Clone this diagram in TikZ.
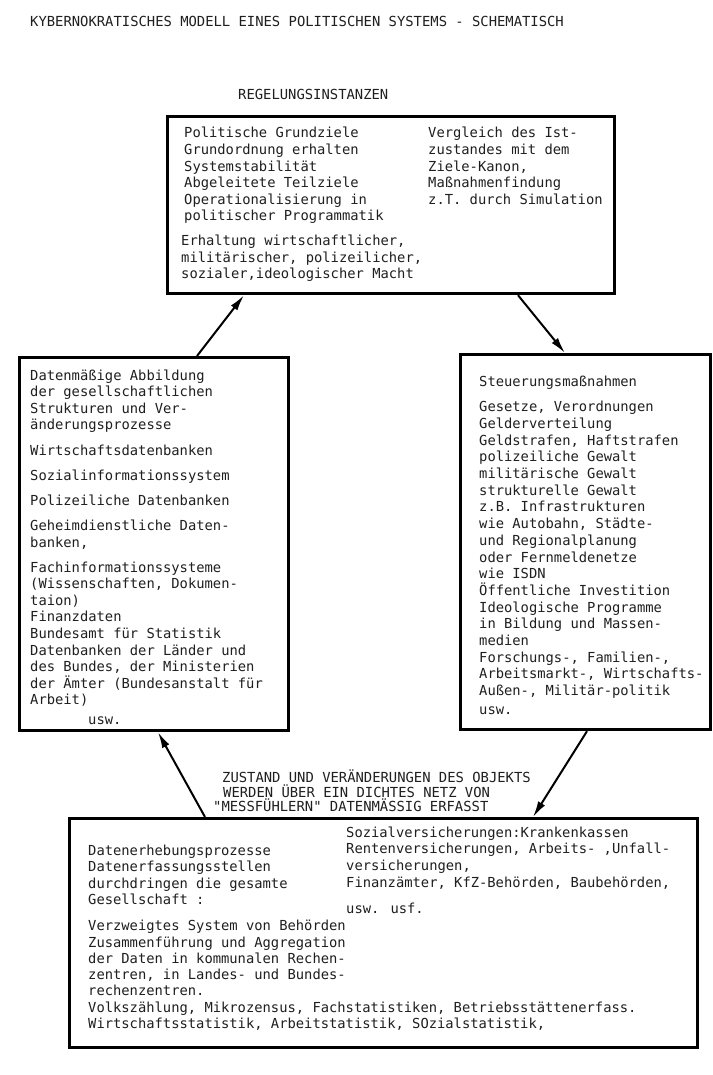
\documentclass[tikz,border=0pt]{standalone}
\usepackage{fontspec}
\usetikzlibrary{arrows.meta}
\newfontfamily\tw{DejaVu Sans Mono}
\tikzset{
  tline/.style={anchor=base west, inner sep=0pt, font=\tw\fontsize{13.8}{16.6}\selectfont, text=black!88},
  capline/.style={tline, font=\tw\fontsize{13.85}{15}\selectfont},
  boxnode/.style={draw=black, line width=3.2pt, anchor=north west, inner sep=0pt},
  arr/.style={line width=2pt, -{Latex[length=16pt,width=8pt]}}
}
\newcommand\tlines[5]{% prefix, x, first baseline y, spacing, list
  \foreach \l [count=\i from 0] in {#5} {\node[tline] (#1\i) at ({#2},{#3+\i*#4}) {\l};}}
\begin{document}
\begin{tikzpicture}[x=1pt,y=-1pt]
\useasboundingbox (0,0) rectangle (712,1075);
\fill[white] (0,0) rectangle (712,1075);

% titles
\node[capline] (title) at (30,27) {KYBERNOKRATISCHES MODELL EINES POLITISCHEN SYSTEMS - SCHEMATISCH};
\node[capline] (regel) at (238,100) {REGELUNGSINSTANZEN};

% boxes
\node[boxnode, minimum width=447pt, minimum height=177pt] (tbox) at (166,115) {};
\node[boxnode, minimum width=269pt, minimum height=373pt] (lbox) at (18,356) {};
\node[boxnode, minimum width=250pt, minimum height=375pt] (rbox) at (459,353) {};
\node[boxnode, minimum width=628pt, minimum height=229pt] (bbox) at (68,817) {};

% top box text
\tlines{ta}{184}{138}{16.6}{{Politische Grundziele},{Grundordnung erhalten},{Systemstabilität},{Abgeleitete Teilziele},{Operationalisierung in},{politischer Programmatik}}
\tlines{tb}{181}{245.5}{16.5}{{Erhaltung wirtschaftlicher,},{militärischer, polizeilicher,},{sozialer,ideologischer Macht}}
\tlines{tc}{428}{138}{16.6}{{Vergleich des Ist-},{zustandes mit dem},{Ziele-Kanon,},{Maßnahmenfindung},{z.T. durch Simulation}}

% left box text
\tlines{la}{30}{380}{16.6}{{Datenmäßige Abbildung},{der gesellschaftlichen},{Strukturen und Ver-},{änderungsprozesse}}
\tlines{lb}{30}{455}{25}{{Wirtschaftsdatenbanken},{Sozialinformationssystem},{Polizeiliche Datenbanken}}
\tlines{lc}{30}{530}{17.5}{{Geheimdienstliche Daten-},{banken,}}
\tlines{ld}{30}{572}{16.6}{{Fachinformationssysteme},{(Wissenschaften, Dokumen-},{taion)},{Finanzdaten},{Bundesamt für Statistik},{Datenbanken der Länder und},{des Bundes, der Ministerien},{der Ämter (Bundesanstalt für},{Arbeit)}}
\node[tline] (lusw) at (88,724) {usw.};

% right box text
\node[tline] (rhead) at (479,386.7) {Steuerungsmaßnahmen};
\tlines{ra}{479}{411.7}{16.7}{{Gesetze, Verordnungen},{Gelderverteilung},{Geldstrafen, Haftstrafen},{polizeiliche Gewalt},{militärische Gewalt},{strukturelle Gewalt},{z.B. Infrastrukturen},{wie Autobahn, Städte-},{und Regionalplanung},{oder Fernmeldenetze},{wie ISDN},{Öffentliche Investition},{Ideologische Programme},{in Bildung und Massen-},{medien},{Forschungs-, Familien-,},{Arbeitsmarkt-, Wirtschafts-},{Außen-, Militär-politik}}
\node[tline] (rusw) at (479,714) {usw.};

% middle caption
\node[capline] (ma) at (222,782) {ZUSTAND UND VERÄNDERUNGEN DES OBJEKTS};
\node[capline] (mb) at (223,797) {WERDEN ÜBER EIN DICHTES NETZ VON};
\node[capline] (mc) at (213,811.5) {"MESSFÜHLERN" DATENMÄSSIG ERFASST};

% bottom box text
\tlines{ba}{88}{855}{16.6}{{Datenerhebungsprozesse},{Datenerfassungsstellen},{durchdringen die gesamte},{Gesellschaft :}}
\tlines{bb}{88}{930.7}{16.3}{{Verzweigtes System von Behörden},{Zusammenführung und Aggregation},{der Daten in kommunalen Rechen-},{zentren, in Landes- und Bundes-},{rechenzentren.},{Volkszählung, Mikrozensus, Fachstatistiken, Betriebsstättenerfass.},{Wirtschaftsstatistik, Arbeitstatistik, SOzialstatistik,}}
\tlines{bc}{346}{837}{16.7}{{Sozialversicherungen:Krankenkassen},{Rentenversicherungen, Arbeits- ,Unfall-},{versicherungen,},{Finanzämter, KfZ-Behörden, Baubehörden,}}
\node[tline] (busw) at (346,913) {usw. usf.};

% arrows
\draw[arr] ([xshift=179pt]lbox.north west) -- ([xshift=78pt]tbox.south west);
\draw[arr] ([xshift=352pt]tbox.south west) -- ([xshift=106pt]rbox.north west);
\draw[arr] ([xshift=128pt]rbox.south west) -- ([xshift=465pt]bbox.north west);
\draw[arr] ([xshift=137pt]bbox.north west) -- ([xshift=140pt]lbox.south west);
\end{tikzpicture}
\end{document}
